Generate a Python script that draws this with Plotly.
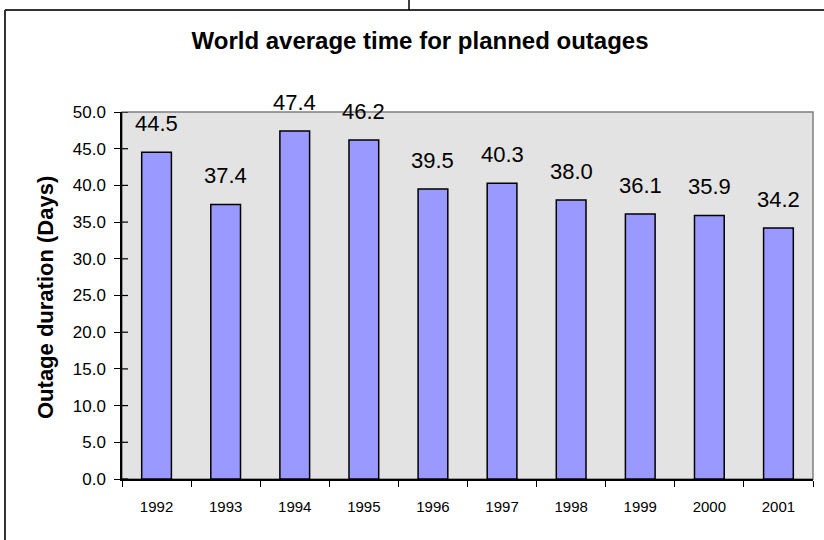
import plotly.graph_objects as go

years = ["1992", "1993", "1994", "1995", "1996", "1997", "1998", "1999", "2000", "2001"]
durations = [44.5, 37.4, 47.4, 46.2, 39.5, 40.3, 38.0, 36.1, 35.9, 34.2]
y_ticks = [0, 5, 10, 15, 20, 25, 30, 35, 40, 45, 50]

FONT = "Liberation Sans, Arial, sans-serif"

fig = go.Figure()
fig.add_trace(go.Bar(
    x=years, y=durations,
    marker=dict(color="#9999FF", line=dict(color="#000000", width=1.5)),
    hoverinfo="x+y",
))

for i, v in enumerate(durations):
    fig.add_annotation(x=i, y=v, text=f"{v:.1f}", showarrow=False,
                       yanchor="bottom", yshift=14,
                       font=dict(family=FONT, size=22, color="#000000"))

# plot area geometry in pixels
L, R, T, B = 122, 813, 112, 479
W, H = R - L, B - T
def px(x):
    return (x - L) / W
def py(y):
    return (B - y) / H

# y-axis title
fig.add_annotation(xref="paper", yref="paper", x=px(45), y=py(298),
                   text="<b>Outage duration (Days)</b>", textangle=-90,
                   showarrow=False, xanchor="center", yanchor="middle",
                   font=dict(family=FONT, size=22, color="#000000"))

# inner half of the y tick marks (ticks cross the axis)
for t in y_ticks:
    fig.add_shape(type="line", xref="paper", yref="y",
                  x0=0, x1=px(128), y0=t, y1=t,
                  line=dict(color="#000000", width=1.2), layer="above")

# outer frame lines
fig.add_shape(type="line", xref="paper", yref="paper",
              x0=px(5), x1=px(840), y0=py(10), y1=py(10),
              line=dict(color="#333333", width=2))
fig.add_shape(type="line", xref="paper", yref="paper",
              x0=px(5), x1=px(5), y0=py(10), y1=py(560),
              line=dict(color="#333333", width=2))
fig.add_shape(type="line", xref="paper", yref="paper",
              x0=px(409), x1=px(409), y0=py(-5), y1=py(10),
              line=dict(color="#000000", width=1.5))
# plot area border (top/right grey)
fig.add_shape(type="rect", xref="paper", yref="paper",
              x0=0, x1=1, y0=0, y1=1,
              line=dict(color="#808080", width=1.5), layer="below")

fig.update_layout(
    width=824, height=540,
    margin=dict(l=L, r=824 - R, t=T, b=540 - B, autoexpand=False),
    paper_bgcolor="#FFFFFF",
    plot_bgcolor="#E3E3E3",
    showlegend=False,
    bargap=0.57,
    title=dict(text="<b>World average time for planned outages</b>",
               xref="container", x=420 / 824, xanchor="center",
               yref="container", y=1 - 41 / 540, yanchor="middle",
               font=dict(family=FONT, size=24, color="#000000")),
    font=dict(family=FONT, color="#000000"),
)
fig.update_xaxes(
    type="category", range=[-0.5, len(years) - 0.5], showline=True,
    linecolor="#000000", linewidth=1.5, automargin=False,
    ticks="outside", tickson="boundaries", ticklen=6, tickcolor="#000000",
    tickfont=dict(family=FONT, size=15), showgrid=False, mirror=False,
    ticklabelstandoff=13, tickangle=0,
)
fig.update_yaxes(
    range=[0, 50], tickvals=y_ticks, tickformat=".1f", automargin=False,
    showline=True, linecolor="#000000", linewidth=1.5,
    ticks="outside", ticklen=6, tickcolor="#000000",
    tickfont=dict(family=FONT, size=17), showgrid=False, zeroline=False,
    ticklabelstandoff=5,
)

fig.write_html("out.html", config={"displayModeBar": False},
               post_script="document.body.style.margin='0';document.body.style.overflow='hidden';")
